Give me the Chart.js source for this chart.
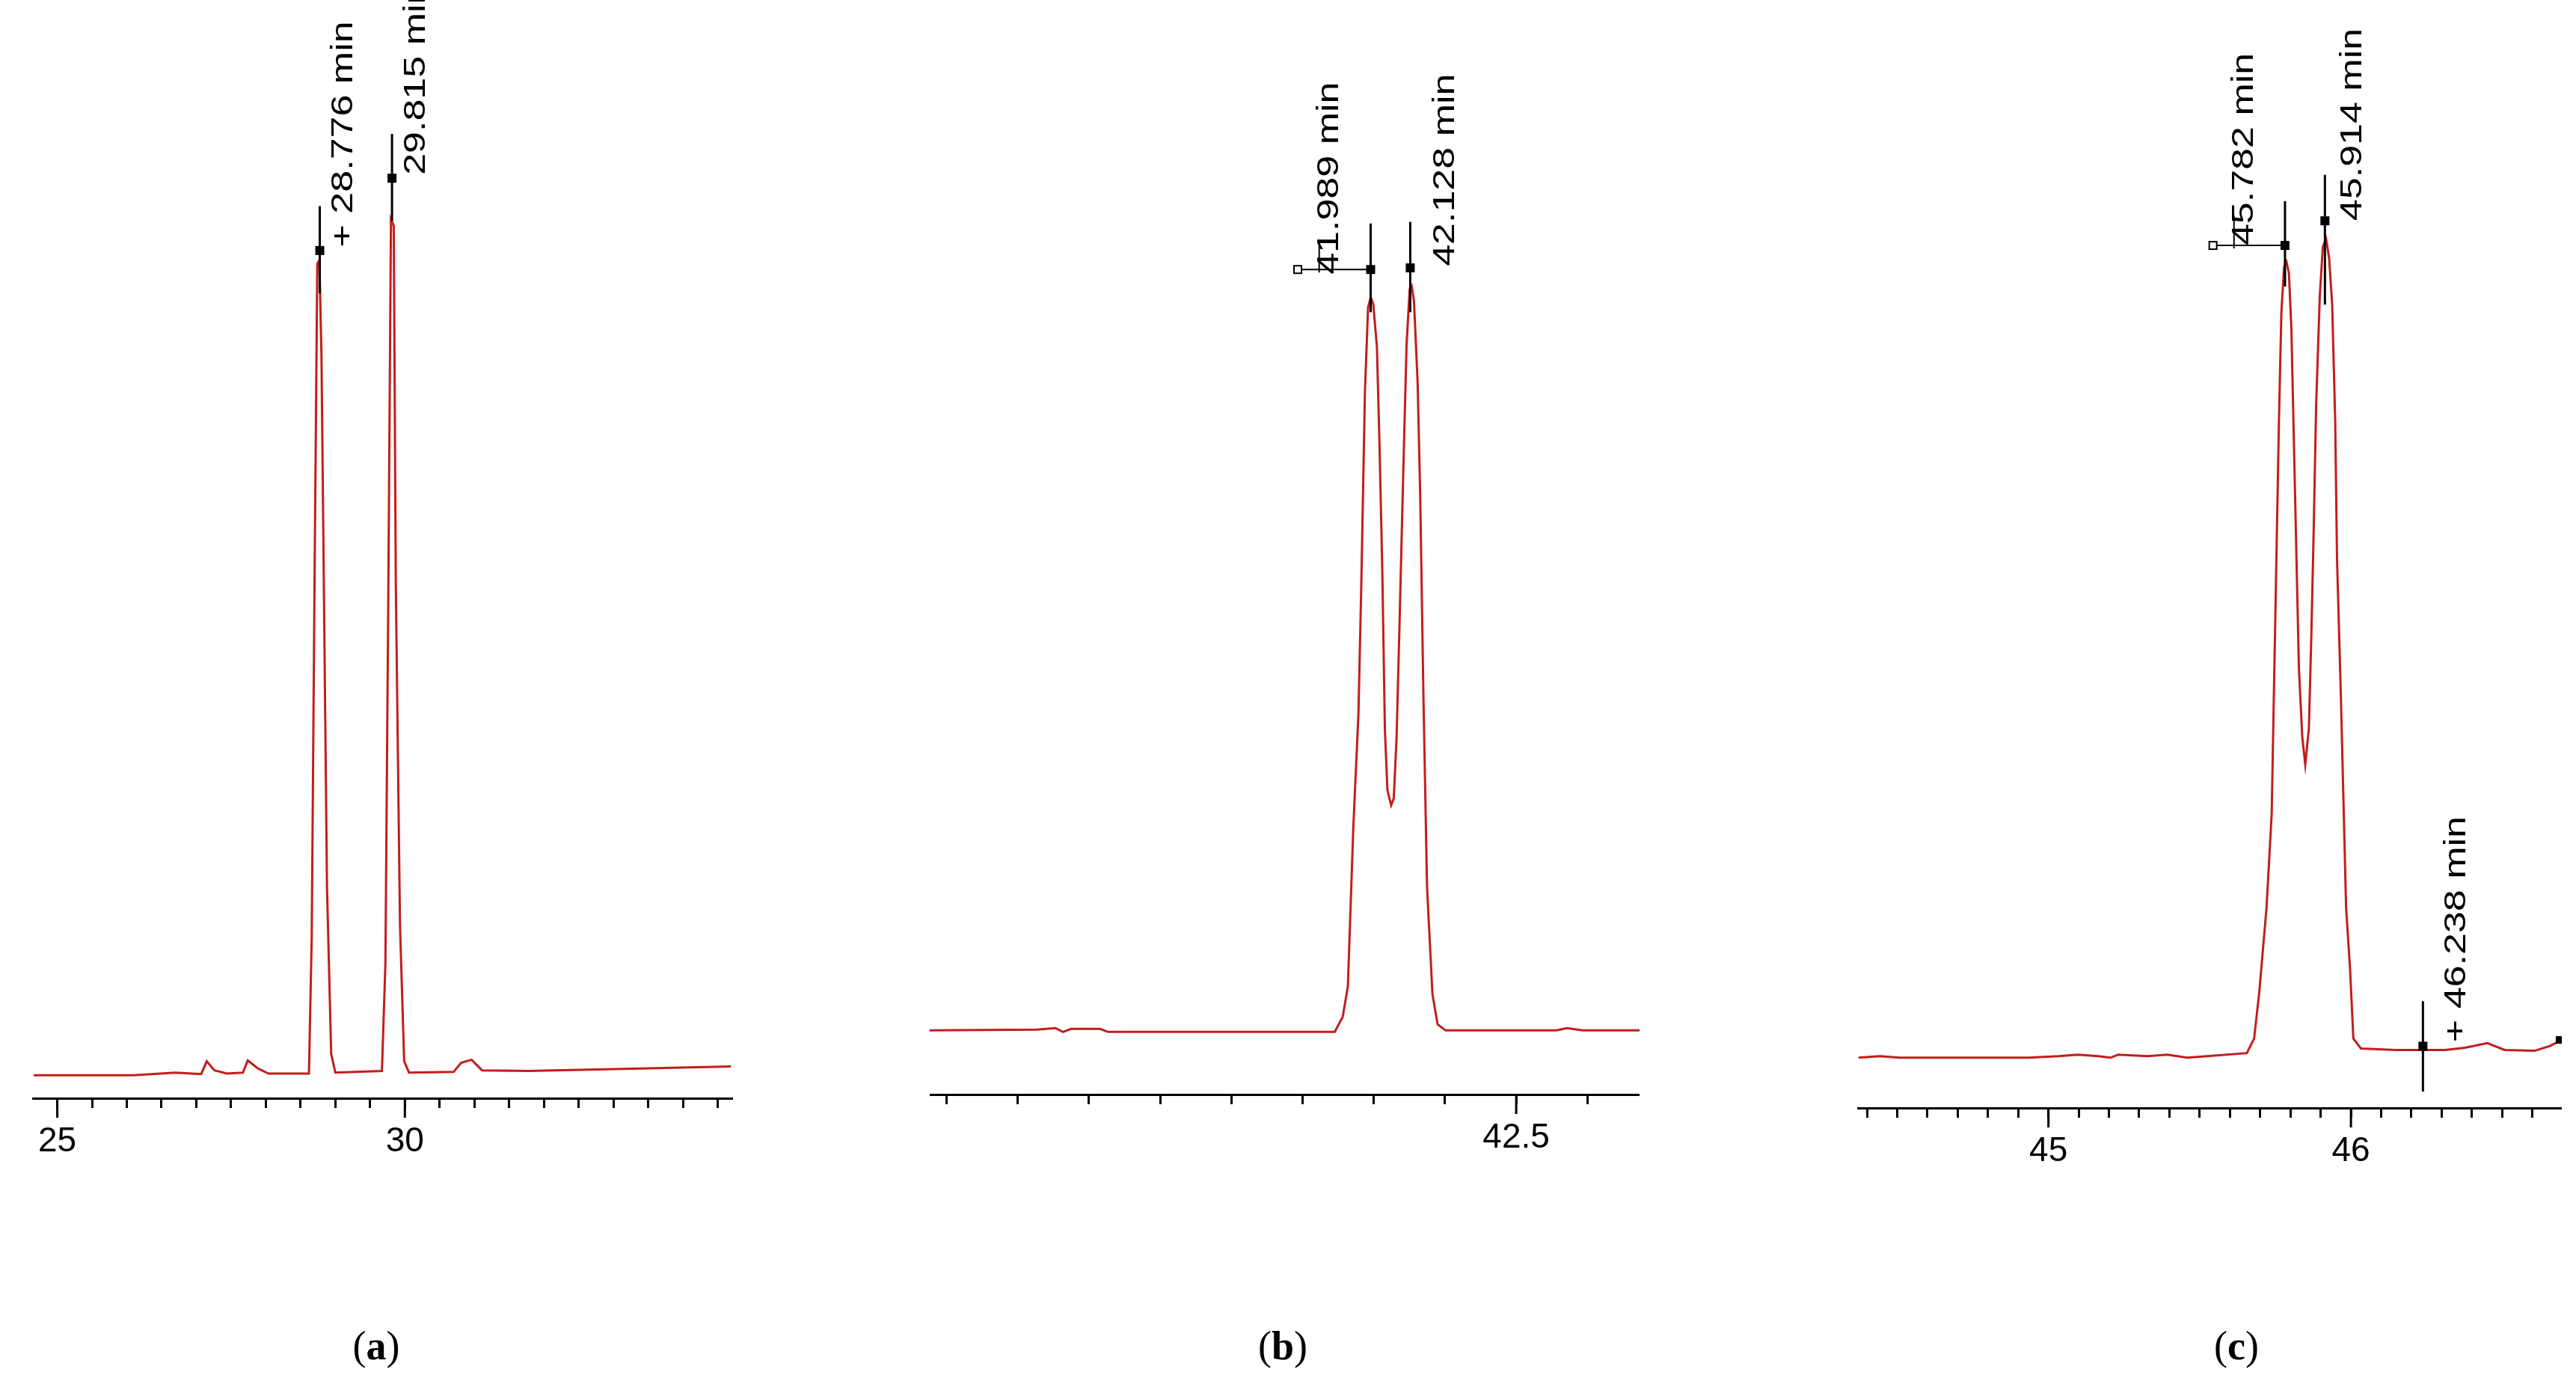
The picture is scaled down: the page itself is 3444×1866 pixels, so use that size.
<!DOCTYPE html>
<html><head><meta charset="utf-8">
<script src="https://cdn.jsdelivr.net/npm/chart.js@4/dist/chart.umd.min.js"></script>
<style>
body{margin:0;background:#fff;width:3444px;height:1866px;overflow:hidden;position:relative;font-family:"Liberation Sans",Arial,sans-serif}
canvas{position:absolute;top:0}
.cap{position:absolute;top:1768px;font-family:"Liberation Serif","Times New Roman",serif;font-size:54px;transform:translateX(-50%)}
</style></head><body>
<canvas id="ca" style="left:33px" width="947" height="1578"></canvas>
<canvas id="cb" style="left:1243px" width="949" height="1573"></canvas>
<canvas id="cc" style="left:2478px" width="947" height="1591"></canvas>
<div class="cap" style="left:503px">(<b>a</b>)</div>
<div class="cap" style="left:1715px">(<b>b</b>)</div>
<div class="cap" style="left:2990px">(<b>c</b>)</div>
<script>
// Panel (a)
const timeA=[24.66,26.10,26.70,27.07,27.15,27.26,27.44,27.67,27.74,27.89,28.04,28.62,28.66,28.70,28.74,28.77,28.80,28.88,28.94,29.00,29.67,29.72,29.76,29.80,29.84,29.87,29.93,29.99,30.06,30.70,30.81,30.96,31.11,31.78,33.27,34.69];
const signalA=[14,14,15.6,14.7,22.5,17,15,15.6,23,18,15,15,98,311,508,510,453,128,27,15.6,16.6,82,297,535,531,311,105,22.5,15.6,16,21.6,23.4,17,16.6,18,19.3];
const peaksA=["+ 28.776 min","29.815 min"];
const peakTimesA=[28.776,29.815];
// Panel (b)
const timeB=[40.441,40.817,40.882,40.909,40.937,41.039,41.067,41.863,41.891,41.909,41.928,41.946,41.956,41.969,41.980,41.989,41.998,42.011,42.020,42.030,42.039,42.048,42.061,42.070,42.080,42.089,42.104,42.115,42.126,42.133,42.141,42.154,42.163,42.174,42.187,42.206,42.224,42.252,42.641,42.678,42.733,42.933];
const signalB=[39,39.5,40.4,38.1,39.9,39.9,38.1,38.1,47.3,65.7,162,231,309,428,479,485,481,455,396,318,222,185,176,180,217,277,382,456,490,492,483,433,364,245,126,61,42.7,39,39,40.4,39,39];
const peaksB=["41.989 min","42.128 min"];
const peakTimesB=[41.989,42.128];
// Panel (c)
const timeC=[44.372,44.443,44.508,44.934,45.033,45.098,45.164,45.205,45.230,45.328,45.393,45.459,45.525,45.656,45.680,45.697,45.721,45.738,45.746,45.754,45.762,45.770,45.779,45.787,45.795,45.803,45.811,45.820,45.828,45.839,45.849,45.861,45.869,45.877,45.885,45.897,45.907,45.918,45.928,45.938,45.948,45.954,45.967,45.984,45.997,46.008,46.033,46.148,46.246,46.311,46.377,46.451,46.508,46.607,46.656,46.697];
const signalC=[30.6,31.5,30.6,30.6,31.5,32.4,31.5,30.6,32.4,31.5,32.4,30.6,31.5,33.4,42.3,70.5,122,179,259,338,418,484,512,515,508,475,409,334,268,226,209,231,287,353,428,494,524,529,517,489,418,334,249,122,85,42.3,36.2,35.3,35.3,35.3,36.7,39.5,35.3,34.8,37.6,41.4];
const peaksC=["45.782 min","45.914 min","+ 46.238 min"];
const peakTimesC=[45.782,45.914,46.238];

const RED='#c21d1d';
// annotation geometry (data units): [markerTime, lineTop, lineBottom, square, textX, textBottom, bracketTo]
const annA=[[peakTimesA[0],543,490,516,29.125,518,null],[peakTimesA[1],587,534,560,30.17,562,null]];
const annB=[[peakTimesB[0],530,476,502,41.845,499,41.733],[peakTimesB[1],531,476,503,42.252,504,null]];
const annC=[[peakTimesC[0],552,500,525,45.648,525,45.544],[peakTimesC[1],568,489,540,46.008,540,null],[peakTimesC[2],65,10,37.6,46.352,40,null]];

function marks(labels,ann,endSquare,majors){
  return {id:'marks',afterDatasetsDraw(ch){
    const c=ch.ctx,x=ch.scales.x,y=ch.scales.y;
    c.save();c.strokeStyle='#000';c.fillStyle='#000';c.lineWidth=3;
    // longer major ticks
    majors.forEach(v=>{const px=x.getPixelForValue(v);c.beginPath();c.moveTo(px,x.top);c.lineTo(px,x.top+26);c.stroke();});
    ann.forEach((a,i)=>{
      const px=x.getPixelForValue(a[0]);
      c.beginPath();c.moveTo(px,y.getPixelForValue(a[1]));c.lineTo(px,y.getPixelForValue(a[2]));c.stroke();
      const sy=y.getPixelForValue(a[3]);
      c.fillRect(px-6,sy-6,12,12);
      if(a[6]!==null){
        const bx=x.getPixelForValue(a[6]);
        c.lineWidth=2;c.beginPath();c.moveTo(px,sy);c.lineTo(bx+5,sy);c.stroke();
        c.strokeRect(bx-5,sy-5,10,10);
        const tx=x.getPixelForValue(a[4])-14;
        c.beginPath();c.moveTo(tx,sy+4);c.lineTo(tx,sy-40);c.stroke();
        c.lineWidth=3;
      }
      c.save();
      c.translate(x.getPixelForValue(a[4]),y.getPixelForValue(a[5]));
      c.rotate(-Math.PI/2);
      c.scale(1.3,1);
      c.font='40px "Liberation Sans", Arial, sans-serif';
      c.textAlign='left';c.textBaseline='middle';
      c.fillText(labels[i],0,0);
      c.restore();
    });
    if(endSquare){
      const ds=ch.data.datasets[0].data,l=ds[ds.length-1];
      c.fillRect(x.getPixelForValue(l.x)-8,y.getPixelForValue(l.y)-5,9,10);
    }
    c.restore();
  }};
}

function make(id,times,sig,xmin,xmax,ymax,step,labelFn,labels,ann,endSq,majors){
  new Chart(document.getElementById(id),{
    type:'line',
    data:{datasets:[{data:times.map((t,i)=>({x:t,y:sig[i]})),borderColor:RED,borderWidth:3,pointRadius:0,tension:0,fill:false}]},
    options:{responsive:false,animation:false,devicePixelRatio:1,
      layout:{padding:0},
      plugins:{legend:{display:false},tooltip:{enabled:false}},
      scales:{
        x:{type:'linear',min:xmin,max:xmax,
          afterFit(s){s.height=110;},
          border:{color:'#000',width:3},
          grid:{drawOnChartArea:false,drawTicks:true,tickLength:13,color:'#000',lineWidth:3},
          ticks:{stepSize:step,autoSkip:false,includeBounds:false,maxRotation:0,color:'#000',padding:18,
            font:{family:'"Liberation Sans Narrow", "Liberation Sans", Arial, sans-serif',size:46},
            callback:v=>labelFn(v)}},
        y:{display:false,min:0,max:ymax}
      }},
    plugins:[marks(labels,ann,endSq,majors)]
  });
}
const near=(v,m)=>Math.abs(v/m-Math.round(v/m))<1e-6;
make('ca',timeA,signalA,24.66,34.72,1468/2.196,0.5,v=>near(v,5)?String(Math.round(v)):'',peaksA,annA,false,[25,30]);
make('cb',timeB,signalB,40.441,42.933,666,0.25,v=>Math.abs(v-42.5)<1e-6?'42.5':'',peaksB,annB,false,[42.5]);
make('cc',timeC,signalC,44.372,46.697,1481/2.196,0.1,v=>near(v,1)?String(Math.round(v)):'',peaksC,annC,true,[45,46]);
</script></body></html>
